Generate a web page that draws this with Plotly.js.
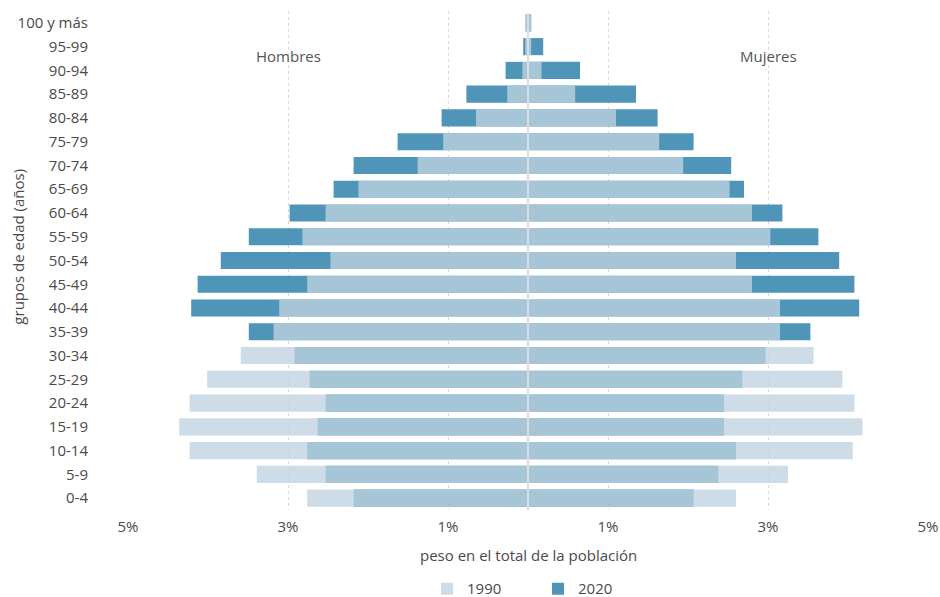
<!DOCTYPE html>
<html>
<head>
<meta charset="utf-8">
<script src="https://cdn.plot.ly/plotly-3.0.1.min.js"></script>
<style>html,body{margin:0;padding:0;background:#fff;}#chart{width:940px;height:597px;}</style>
</head>
<body>
<div id="chart"></div>
<script>
const ageGroups = ["0-4","5-9","10-14","15-19","20-24","25-29","30-34","35-39","40-44","45-49","50-54","55-59","60-64","65-69","70-74","75-79","80-84","85-89","90-94","95-99","100 y más"];

const men1990   = [2.76,3.39,4.23,4.36,4.23,4.01,3.59,3.18,3.11,2.76,2.47,2.82,2.53,2.12,1.38,1.06,0.65,0.26,0.07,0.035,0.03];
const women1990 = [2.60,3.25,4.06,4.18,4.08,3.93,3.57,3.15,3.15,2.80,2.60,3.03,2.80,2.52,1.94,1.64,1.10,0.59,0.17,0.04,0.04];
const men2020   = [2.18,2.53,2.76,2.63,2.53,2.73,2.92,3.49,4.21,4.13,3.84,3.49,2.98,2.43,2.18,1.63,1.08,0.77,0.28,0.06,0.03];
const women2020 = [2.07,2.38,2.60,2.45,2.45,2.68,2.97,3.53,4.14,4.08,3.89,3.63,3.18,2.70,2.54,2.07,1.62,1.35,0.65,0.19,0.04];

const tickVals = [-5,-3,-1,1,3,5];
const tickText = ["5%","3%","1%","1%","3%","5%"];

const FONT = "'Open Sans', 'Noto Sans', sans-serif";

const trace2020 = {
  type: 'bar', orientation: 'h', name: '2020',
  y: ageGroups.concat(ageGroups),
  x: men2020.map(v => -v).concat(women2020),
  marker: {color: '#4f95b8', line: {width: 0}},
  hoverinfo: 'skip'
};
const trace1990 = {
  type: 'bar', orientation: 'h', name: '1990',
  y: ageGroups.concat(ageGroups),
  x: men1990.map(v => -v).concat(women1990),
  marker: {color: 'rgba(191,210,223,0.78)', line: {width: 0}},
  hoverinfo: 'skip'
};

const layout = {
  width: 940, height: 597,
  margin: {l: 127.5, r: 12, t: 11, b: 87, autoexpand: false},
  paper_bgcolor: '#fff', plot_bgcolor: '#fff',
  barmode: 'overlay', bargap: 0.28,
  font: {family: FONT, size: 15, color: '#4a4a4a'},
  showlegend: true,
  legend: {
    orientation: 'h', x: 0.5125, xanchor: 'center', y: -0.125, yanchor: 'top',
    traceorder: 'reversed', font: {size: 15, color: '#4a4a4a'},
    entrywidth: 66, entrywidthmode: 'pixels'
  },
  xaxis: {
    range: [-5, 5], tickvals: tickVals, ticktext: tickText,
    showgrid: true, gridcolor: '#d9d9d9', griddash: 'dot', gridwidth: 1,
    zeroline: false, showline: false, ticks: 'outside', ticklen: 3, tickcolor: 'rgba(0,0,0,0)',
    fixedrange: true, tickfont: {size: 15, color: '#4a4a4a'}
  },
  yaxis: {
    type: 'category', categoryorder: 'array', categoryarray: ageGroups,
    range: [-0.5, 20.5], showgrid: false, zeroline: false, showline: false,
    ticks: 'outside', ticklen: 36, tickcolor: 'rgba(0,0,0,0)',
    tickfont: {size: 15, color: '#4a4a4a'}, fixedrange: true
  },
  shapes: [{
    type: 'line', xref: 'x', yref: 'paper', x0: 0, x1: 0, y0: 0, y1: 0.995,
    line: {color: '#dcdcdc', width: 2}, layer: 'above'
  }],
  annotations: [
    {text: 'Hombres', xref: 'x', yref: 'paper', x: -3, y: 0.91, showarrow: false,
     font: {size: 15, color: '#555'}, xanchor: 'center', yanchor: 'middle'},
    {text: 'Mujeres', xref: 'x', yref: 'paper', x: 3, y: 0.91, showarrow: false,
     font: {size: 15, color: '#555'}, xanchor: 'center', yanchor: 'middle'},
    {text: 'peso en el total de la población', xref: 'paper', yref: 'paper', x: 0.5, y: -0.09,
     showarrow: false, font: {size: 15, color: '#4a4a4a'}, xanchor: 'center', yanchor: 'middle'},
    {text: 'grupos de edad (años)', xref: 'paper', yref: 'paper', x: -0.138, y: 0.527,
     textangle: -90, showarrow: false, font: {size: 15, color: '#4a4a4a'}, xanchor: 'center', yanchor: 'middle'}
  ]
};

Plotly.newPlot('chart', [trace2020, trace1990], layout, {displayModeBar: false, staticPlot: true});
</script>
</body>
</html>
